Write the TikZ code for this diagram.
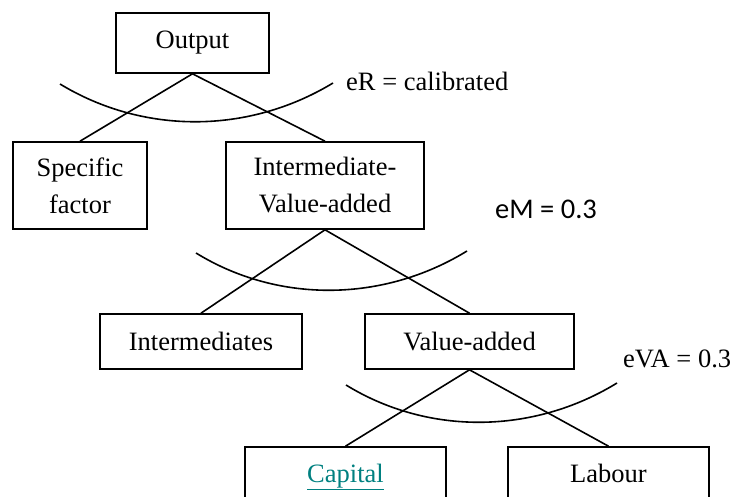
\documentclass[tikz,border=0pt]{standalone}
\usepackage{fontspec}
\setmainfont{Liberation Serif}
\newfontfamily\calfont{Carlito}
\definecolor{linkteal}{RGB}{0,128,128}
\begin{document}
\begin{tikzpicture}[x=1pt,y=-1pt,
  box/.style={draw, line width=1.6pt, inner sep=0pt, align=center,
    font=\fontsize{26.5}{37}\selectfont},
  link/.style={line width=1.6pt},
  elast/.style={line width=1.6pt},
  lbl/.style={anchor=base west, inner sep=0pt, font=\fontsize{26.5}{32}\selectfont}]
\useasboundingbox (0,0) rectangle (734,496);
\clip (0,0) rectangle (734,496);

% nested production tree
\node[box, minimum width=153pt, minimum height=60pt] (out) at (192.5,43) {Output};
\node[box, minimum width=134pt, minimum height=87pt] (spec) at (80,185.5) {Specific\\factor};
\node[box, minimum width=198pt, minimum height=87pt] (iva) at (325,185.5) {Intermediate-\\Value-added};
\node[box, minimum width=202pt, minimum height=55pt] (inter) at (201,341.5) {Intermediates};
\node[box, minimum width=209pt, minimum height=55pt] (va) at (469.5,341.5) {Value-added};
\node[box, minimum width=201pt, minimum height=64pt, text depth=12pt] (cap) at (345.5,479)
  {\color{linkteal}\underline{Capital}};
\node[box, minimum width=201pt, minimum height=64pt, text depth=12pt] (lab) at (608.5,479) {Labour};

\draw[link] (out.south) -- (spec.north);
\draw[link] (out.south) -- (iva.north);
\draw[link] (iva.south) -- (inter.north);
\draw[link] (iva.south) -- (va.north);
\draw[link] (va.south) -- (cap.north);
\draw[link] (va.south) -- (lab.north);

% substitution elasticity arcs
\coordinate (r1) at (60,84);   \coordinate (r2) at (333,83);
\coordinate (m1) at (196,253); \coordinate (m2) at (467,251);
\coordinate (v1) at (346,385); \coordinate (v2) at (617,383);
\draw[elast] (r1) .. controls (144,135) and (249,134) .. (r2);
\draw[elast] (m1) .. controls (279,304) and (384,302) .. (m2);
\draw[elast] (v1) .. controls (429,436) and (534,434) .. (v2);

\node[lbl] (eR) at (346,90) {eR = calibrated};
\node[lbl, font=\calfont\fontsize{28.5}{34}\selectfont] (eM) at (495,218) {eM = 0.3};
\node[lbl] (eVA) at (623,367) {eVA = 0.3};
\end{tikzpicture}
\end{document}
